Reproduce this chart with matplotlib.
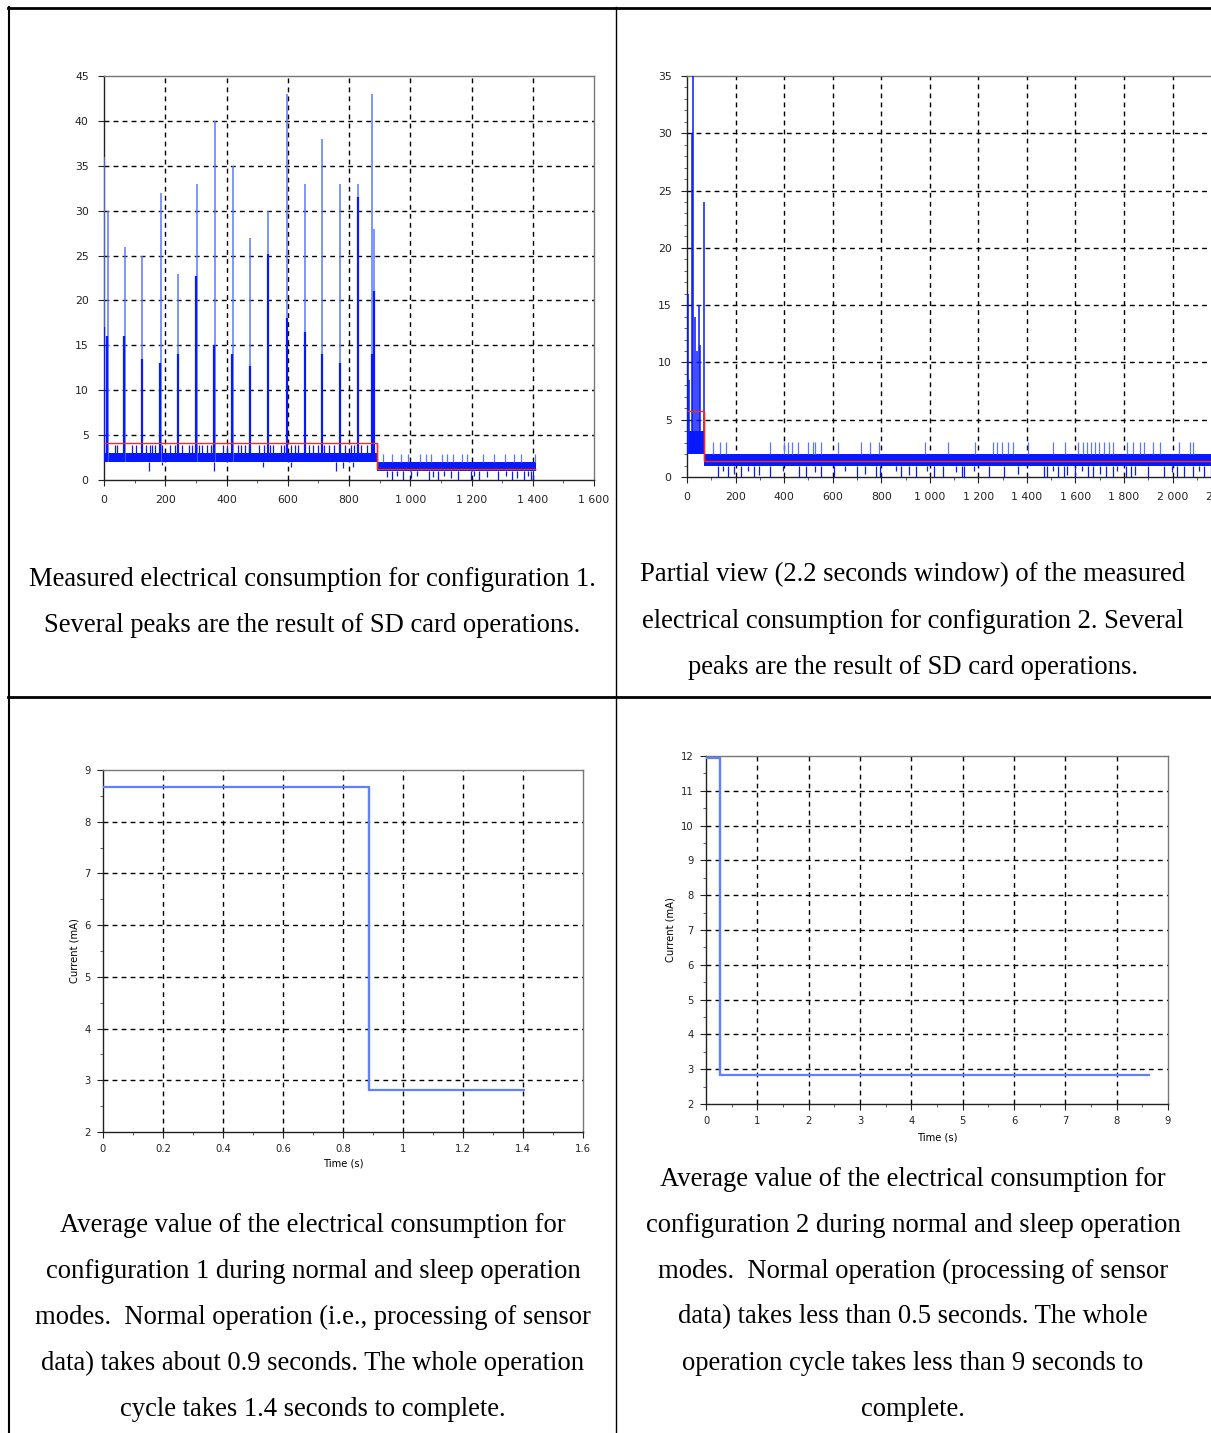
import numpy as np
import matplotlib
matplotlib.use("Agg")
import matplotlib.pyplot as plt
from matplotlib.lines import Line2D
from matplotlib.ticker import MultipleLocator

# ---------------- data ----------------
# Panel 1 : configuration 1 (x in ms, current in mA)
p1_peak_x = [0, 12, 67, 125, 185, 242, 303, 361, 420, 478, 536, 598, 656, 713, 772, 831, 876, 882]
p1_peak_y = [36, 30, 26, 25, 32, 23, 33, 40, 35, 27, 30, 43, 33, 38, 33, 33, 43, 28]
p1_peak_mid = [17, 16, 16, 13.5, 13, 14, 22.7, 15, 14, 12.7, 25.2, 18, 16.5, 14, 13, 31.5, 14, 21]
p1_band_a = [2.0, 3.0]          # dense noise band (low, high), normal mode
p1_band_a_x = [2, 890]
p1_band_b = [1.0, 2.0]          # dense noise band, sleep mode
p1_band_b_x = [890, 1412]
p1_up_a_x = [35, 42, 91, 103, 138, 150, 156, 167, 191, 214, 232, 255, 278, 287, 302, 310, 319,
             337, 349, 355, 390, 401, 436, 448, 460, 472, 507, 524, 542, 553, 577, 589, 612, 624,
             635, 670, 684, 700, 717, 735, 752, 787, 805, 817, 840, 858]
p1_up_a_y = 3.9
p1_down_a_x = [146, 191, 358, 518, 612, 756, 782, 813]
p1_down_a_y = [1.0, 1.7, 1.0, 1.5, 1.5, 1.0, 1.3, 1.5]
p1_up_b_x = [910, 942, 969, 992, 1033, 1050, 1068, 1103, 1121, 1138, 1168, 1185, 1238, 1273,
             1308, 1338, 1361, 1408]
p1_up_b_y = 2.9
p1_down_b_x = [925, 940, 957, 975, 1004, 1021, 1062, 1074, 1092, 1109, 1133, 1156, 1197, 1209,
               1226, 1250, 1285, 1314, 1332, 1350, 1373, 1385, 1394, 1402]
p1_down_b_y = [0.3, 0.0, 0.5, 0.0, 0.2, 0.5, 0.0, 0.3, 0.0, 0.5, 0.2, 0.0, 0.0, 0.4, 0.0, 0.3,
               0.0, 0.5, 0.0, 0.2, 0.0, 0.4, 0.0, 0.0]
p1_mean_edges = [0, 890, 1412]
p1_mean_levels = [4.15, 1.27]

# Panel 2 : configuration 2, 2.2 s window
p2_peak_x = [3, 8, 21, 23, 33, 41, 48, 53, 71]
p2_peak_y = [16, 8.5, 30, 36, 14, 11, 15, 11.5, 24]
p2_band_a = [2.0, 4.0]
p2_band_a_x = [8, 72]
p2_band_b = [1.0, 2.05]
p2_band_b_x = [72, 2300]
p2_up_x = [108, 134, 161, 341, 399, 417, 432, 457, 499, 519, 529, 552, 623, 717, 752, 790, 981,
           1075, 1186, 1260, 1277, 1297, 1322, 1342, 1404, 1507, 1557, 1612, 1632, 1647, 1665,
           1680, 1698, 1718, 1740, 1755, 1812, 1838, 1866, 1883, 1921, 1948, 2026, 2072, 2086]
p2_up_y = 3.05
p2_down_x = [128, 149, 168, 194, 221, 251, 278, 296, 341, 394, 462, 492, 529, 552, 605, 650,
             702, 732, 778, 793, 860, 883, 913, 943, 988, 1018, 1056, 1108, 1131, 1139, 1184,
             1244, 1304, 1364, 1469, 1484, 1507, 1530, 1552, 1567, 1597, 1627, 1650, 1672, 1703,
             1725, 1755, 1770, 1808, 1830, 1845, 1898, 1966, 1996, 2018, 2048, 2086, 2109, 2131,
             2160, 2190, 2210, 2250]
p2_down_y = [0.0, 0.5, 0.0, 0.3, 0.0, 0.5, 0.0, 0.2, 0.0, 0.5, 0.0, 0.0, 0.4, 0.0, 0.0, 0.5,
             0.0, 0.3, 0.0, 0.0, 0.5, 0.0, 0.2, 0.0, 0.5, 0.0, 0.0, 0.4, 0.0, 0.0, 0.5, 0.0,
             0.0, 0.3, 0.0, 0.0, 0.5, 0.0, 0.0, 0.2, 0.0, 0.5, 0.0, 0.0, 0.3, 0.0, 0.0, 0.5,
             0.0, 0.0, 0.2, 0.0, 0.0, 0.4, 0.0, 0.0, 0.0, 0.5, 0.0, 0.0, 0.3, 0.0, 0.0]
p2_mean_edges = [0, 72, 2400]
p2_mean_levels = [5.8, 1.4]

# Panel 3 : average, configuration 1 (time s, current mA)
p3_edges = [0, 0.885, 1.405]
p3_levels = [8.67, 2.81]

# Panel 4 : average, configuration 2
p4_edges = [0, 0.28, 8.65]
p4_levels = [11.93, 2.82]

captions = [
    ["Measured electrical consumption for configuration 1.",
     "Several peaks are the result of SD card operations."],
    ["Partial view (2.2 seconds window) of the measured",
     "electrical consumption for configuration 2. Several",
     "peaks are the result of SD card operations."],
    ["Average value of the electrical consumption for",
     "configuration 1 during normal and sleep operation",
     "modes.  Normal operation (i.e., processing of sensor",
     "data) takes about 0.9 seconds. The whole operation",
     "cycle takes 1.4 seconds to complete."],
    ["Average value of the electrical consumption for",
     "configuration 2 during normal and sleep operation",
     "modes.  Normal operation (processing of sensor",
     "data) takes less than 0.5 seconds. The whole",
     "operation cycle takes less than 9 seconds to",
     "complete."],
]

# ---------------- figure ----------------
W, H = 1211, 1433
fig = plt.figure(figsize=(W / 100, H / 100), dpi=100)
fig.patch.set_facecolor("white")

BLUE = "#0818ff"
LBLUE = "#5a78ff"
RED = "#f03020"
AVG = "#6080ff"


def add_ax(l, t, r, b):
    return fig.add_axes([l / W, 1 - b / H, (r - l) / W, (b - t) / H])


def thou(v):
    v = int(round(v))
    if v >= 1000:
        return f"{v // 1000} {v % 1000:03d}"
    return str(v)


def style(ax, xgrid, ygrid, fs=7.8, pad=6):
    for s in ["left", "bottom"]:
        ax.spines[s].set_color("#222222")
        ax.spines[s].set_linewidth(1.0)
    for s in ["top", "right"]:
        ax.spines[s].set_color("#777777")
        ax.spines[s].set_linewidth(1.0)
    ax.tick_params(which="major", direction="out", length=4, width=0.8, labelsize=fs,
                   pad=pad, colors="#222222")
    ax.tick_params(which="minor", direction="out", length=2, width=0.6, colors="#444444")
    for xv in xgrid:
        ax.axvline(xv, color="black", lw=1.0, ls=(0, (3.5, 3)), zorder=1)
    for yv in ygrid:
        ax.axhline(yv, color="black", lw=1.0, ls=(0, (3.5, 3)), zorder=1)


# ---- Panel 1 ----
ax1 = add_ax(104, 76, 594, 480)
ax1.set_xlim(0, 1600)
ax1.set_ylim(0, 45)
ax1.set_xticks(np.arange(0, 1601, 200))
ax1.set_xticklabels([thou(v) for v in np.arange(0, 1601, 200)])
ax1.set_yticks(np.arange(0, 46, 5))
ax1.xaxis.set_minor_locator(MultipleLocator(100))
style(ax1, np.arange(200, 1401, 200), np.arange(5, 41, 5), pad=7)
ax1.fill_between(p1_band_a_x, p1_band_a[0], p1_band_a[1], color=BLUE, lw=0, zorder=3)
ax1.fill_between(p1_band_b_x, p1_band_b[0], p1_band_b[1], color=BLUE, lw=0, zorder=3)
ax1.vlines(p1_up_a_x, p1_band_a[1], p1_up_a_y, color=BLUE, lw=0.9, zorder=3)
ax1.vlines(p1_down_a_x, p1_down_a_y, p1_band_a[0], color=BLUE, lw=0.9, zorder=3)
ax1.vlines(p1_up_b_x, p1_band_b[1], p1_up_b_y, color=LBLUE, lw=0.9, zorder=3)
ax1.vlines(p1_down_b_x, p1_down_b_y, p1_band_b[0], color=BLUE, lw=0.9, zorder=3)
ax1.vlines(p1_peak_x, p1_band_a[0], p1_peak_y, color=LBLUE, lw=1.1, zorder=3)
ax1.vlines(np.array(p1_peak_x) - 1, p1_band_a[0], p1_peak_mid, color=BLUE, lw=1.6, zorder=3)
ax1.stairs(p1_mean_levels, p1_mean_edges, baseline=None, color=RED, lw=1.0, zorder=4)
ax1.vlines([p1_mean_edges[1]], p1_mean_levels[1], p1_mean_levels[0], color=RED, lw=1.0, zorder=4)

# ---- Panel 2 ----
ax2 = add_ax(687, 76, 687 + 2400 * 0.2428, 477)
ax2.set_xlim(0, 2400)
ax2.set_ylim(0, 35)
ax2.set_xticks(np.arange(0, 2401, 200))
ax2.set_xticklabels([thou(v) for v in np.arange(0, 2401, 200)])
ax2.set_yticks(np.arange(0, 36, 5))
ax2.yaxis.set_minor_locator(MultipleLocator(1))
ax2.xaxis.set_minor_locator(MultipleLocator(100))
style(ax2, np.arange(200, 2201, 200), np.arange(5, 31, 5), pad=7)
ax2.fill_between(p2_band_a_x, p2_band_a[0], p2_band_a[1], color=BLUE, lw=0, zorder=3)
ax2.fill_between(p2_band_b_x, p2_band_b[0], p2_band_b[1], color=BLUE, lw=0, zorder=3)
ax2.vlines(p2_up_x, p2_band_b[1], p2_up_y, color=LBLUE, lw=0.9, zorder=3)
ax2.vlines(p2_down_x, p2_down_y, p2_band_b[0], color=BLUE, lw=0.9, zorder=3)
ax2.vlines(p2_peak_x, 2, p2_peak_y, color=BLUE, lw=1.1, zorder=3)
ax2.stairs(p2_mean_levels, p2_mean_edges, baseline=None, color=RED, lw=1.0, zorder=4)
ax2.vlines([p2_mean_edges[1]], p2_mean_levels[1], p2_mean_levels[0], color=RED, lw=1.0, zorder=4)

# ---- Panel 3 ----
ax3 = add_ax(103, 770, 583, 1132)
ax3.set_xlim(0, 1.6)
ax3.set_ylim(2, 9)
xt3 = np.round(np.arange(0, 1.61, 0.2), 1)
ax3.set_xticks(xt3)
ax3.set_xticklabels([("%g" % v) for v in xt3])
ax3.set_yticks(np.arange(2, 10, 1))
ax3.xaxis.set_minor_locator(MultipleLocator(0.1))
ax3.yaxis.set_minor_locator(MultipleLocator(0.5))
style(ax3, xt3[1:-1], np.arange(3, 9, 1), fs=7.2, pad=5)
ax3.stairs(p3_levels, p3_edges, baseline=None, color=AVG, lw=1.6, zorder=4)
ax3.vlines([p3_edges[1]], p3_levels[1], p3_levels[0], color=AVG, lw=1.6, zorder=4)
ax3.set_xlabel("Time (s)", fontsize=7.2, labelpad=3)
ax3.set_ylabel("Current (mA)", fontsize=7.2, labelpad=3)

# ---- Panel 4 ----
ax4 = add_ax(706, 756, 1168, 1104)
ax4.set_xlim(0, 9)
ax4.set_ylim(2, 12)
ax4.set_xticks(np.arange(0, 10, 1))
ax4.set_yticks(np.arange(2, 13, 1))
ax4.xaxis.set_minor_locator(MultipleLocator(0.5))
ax4.yaxis.set_minor_locator(MultipleLocator(0.5))
style(ax4, np.arange(1, 9, 1), np.arange(3, 12, 1), fs=7.2, pad=5)
ax4.stairs(p4_levels, p4_edges, baseline=None, color=AVG, lw=1.6, zorder=4)
ax4.vlines([p4_edges[1]], p4_levels[1], p4_levels[0], color=AVG, lw=1.6, zorder=4)
ax4.set_xlabel("Time (s)", fontsize=7.2, labelpad=4)
ax4.set_ylabel("Current (mA)", fontsize=7.2, labelpad=4)

# ---- table lines ----
def hline(y, x0, x1, lw):
    fig.add_artist(Line2D([x0 / W, x1 / W], [1 - y / H, 1 - y / H], color="black", lw=lw,
                          transform=fig.transFigure))


def vline(x, y0, y1, lw):
    fig.add_artist(Line2D([x / W, x / W], [1 - y0 / H, 1 - y1 / H], color="black", lw=lw,
                          transform=fig.transFigure))


hline(8, 8, W, 2.0)
hline(697, 8, W, 2.0)
vline(9, 7, H, 1.5)
vline(616, 7, H, 1.0)

# ---- captions ----
cap_centers = [312, 913, 313, 913]
cap_starts = [580, 575, 1225, 1179]
for lines, cx, y0 in zip(captions, cap_centers, cap_starts):
    for i, line in enumerate(lines):
        fig.text(cx / W, 1 - (y0 + 46 * i) / H, line, ha="center", va="center",
                 fontsize=19.2, family="Liberation Serif", color="black")

fig.savefig("out.png", dpi=100)
